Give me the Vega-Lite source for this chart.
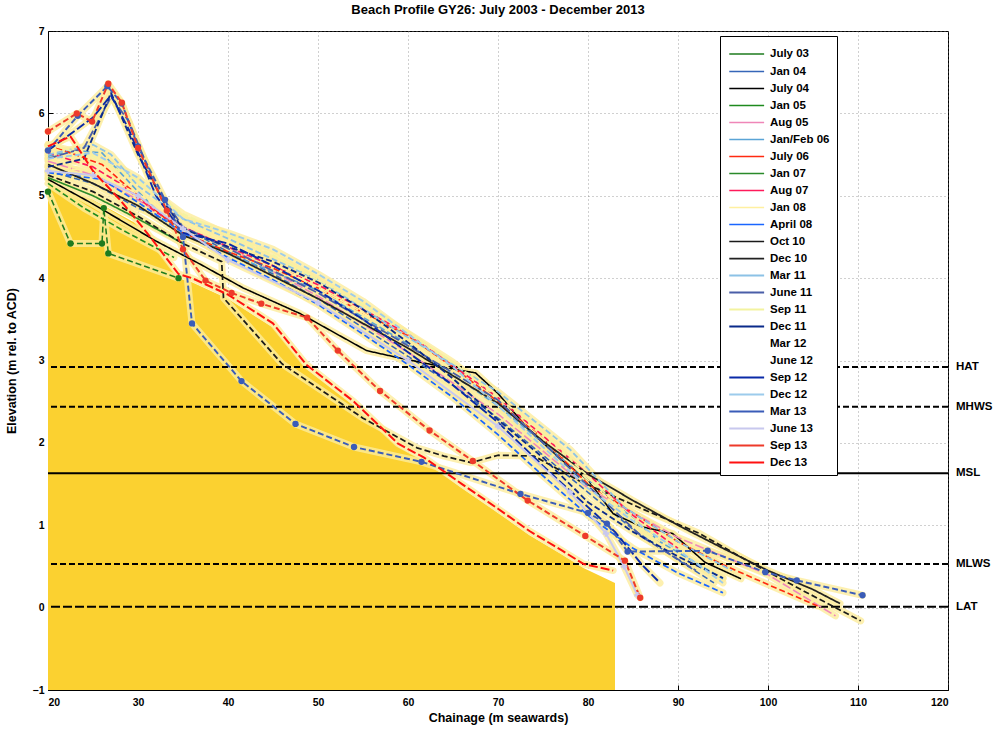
{
  "$schema": "https://vega.github.io/schema/vega-lite/v6.json",
  "width": 900,
  "height": 659,
  "autosize": {"type": "none"},
  "padding": {"left": 48, "top": 31, "right": 53, "bottom": 40},
  "background": "white",
  "title": {"text": "Beach Profile GY26: July 2003 - December 2013", "font": "Liberation Sans Narrow, Liberation Sans, Arial", "fontSize": 13, "fontWeight": "bold", "color": "black", "anchor": "middle", "offset": 9},
  "config": {
    "view": {"stroke": "black", "strokeWidth": 1},
    "axis": {"labelFont": "Liberation Sans Narrow, Liberation Sans, Arial", "labelFontWeight": "bold", "labelFontSize": 10.5, "labelColor": "black", "titleFont": "Liberation Sans Narrow, Liberation Sans, Arial", "titleFontWeight": "bold", "titleFontSize": 12.5, "titleColor": "black", "domainColor": "black", "tickColor": "black", "tickSize": -5, "labelPadding": 9, "grid": true, "gridColor": "#777777", "gridDash": [1, 3], "gridOpacity": 0.7, "zindex": 1}
  },
  "datasets": {
    "fill": [
      {"x": 20, "y": 5.15}, {"x": 25, "y": 4.95}, {"x": 30, "y": 4.65}, {"x": 34.5, "y": 4.0}, {"x": 36, "y": 3.95}, {"x": 40, "y": 3.75}, {"x": 45, "y": 3.4}, {"x": 48.7, "y": 2.9}, {"x": 54, "y": 2.45}, {"x": 58.9, "y": 1.95}, {"x": 61.8, "y": 1.78}, {"x": 66, "y": 1.45}, {"x": 70, "y": 1.15}, {"x": 73.5, "y": 0.88}, {"x": 77, "y": 0.65}, {"x": 79.5, "y": 0.48}, {"x": 83, "y": 0.3}
    ],
    "levels": [
      {"name": "HAT", "y": 2.92}, {"name": "MHWS", "y": 2.44}, {"name": "MSL", "y": 1.63}, {"name": "MLWS", "y": 0.53}, {"name": "LAT", "y": 0.01}
    ],
    "profiles": [
      {"s": "July 03", "x": 20, "y": 5.05}, {"s": "July 03", "x": 22.5, "y": 4.42}, {"s": "July 03", "x": 26, "y": 4.42}, {"s": "July 03", "x": 26.2, "y": 4.85}, {"s": "July 03", "x": 26.7, "y": 4.3}, {"s": "July 03", "x": 34.5, "y": 4.0},
      {"s": "Jan 04", "x": 20, "y": 5.3}, {"s": "Jan 04", "x": 25, "y": 5.15}, {"s": "Jan 04", "x": 30, "y": 4.85}, {"s": "Jan 04", "x": 35, "y": 4.62}, {"s": "Jan 04", "x": 40, "y": 4.32}, {"s": "Jan 04", "x": 45, "y": 4.05}, {"s": "Jan 04", "x": 50, "y": 3.75}, {"s": "Jan 04", "x": 55, "y": 3.4}, {"s": "Jan 04", "x": 60, "y": 3.05}, {"s": "Jan 04", "x": 65, "y": 2.7}, {"s": "Jan 04", "x": 70, "y": 2.3}, {"s": "Jan 04", "x": 75, "y": 1.85}, {"s": "Jan 04", "x": 80, "y": 1.4}, {"s": "Jan 04", "x": 85, "y": 0.95}, {"s": "Jan 04", "x": 90, "y": 0.58}, {"s": "Jan 04", "x": 94, "y": 0.3},
      {"s": "July 04", "x": 20, "y": 5.2}, {"s": "July 04", "x": 25, "y": 4.9}, {"s": "July 04", "x": 32, "y": 4.45}, {"s": "July 04", "x": 36.9, "y": 4.17}, {"s": "July 04", "x": 41.7, "y": 3.88}, {"s": "July 04", "x": 48, "y": 3.57}, {"s": "July 04", "x": 55.4, "y": 3.12}, {"s": "July 04", "x": 59.1, "y": 3.03}, {"s": "July 04", "x": 65.8, "y": 2.88}, {"s": "July 04", "x": 67.5, "y": 2.85}, {"s": "July 04", "x": 70, "y": 2.6}, {"s": "July 04", "x": 73.5, "y": 2.15}, {"s": "July 04", "x": 77, "y": 1.8}, {"s": "July 04", "x": 80, "y": 1.55}, {"s": "July 04", "x": 82.8, "y": 1.14}, {"s": "July 04", "x": 86, "y": 0.98}, {"s": "July 04", "x": 89.4, "y": 0.9}, {"s": "July 04", "x": 93, "y": 0.55}, {"s": "July 04", "x": 97, "y": 0.35},
      {"s": "Jan 05", "x": 20, "y": 5.15}, {"s": "Jan 05", "x": 24, "y": 4.85}, {"s": "Jan 05", "x": 28, "y": 4.6}, {"s": "Jan 05", "x": 34, "y": 4.25},
      {"s": "Aug 05", "x": 20, "y": 5.42}, {"s": "Aug 05", "x": 25, "y": 5.25}, {"s": "Aug 05", "x": 30, "y": 4.95}, {"s": "Aug 05", "x": 35, "y": 4.62}, {"s": "Aug 05", "x": 40, "y": 4.38}, {"s": "Aug 05", "x": 50, "y": 3.78}, {"s": "Aug 05", "x": 60, "y": 3.1}, {"s": "Aug 05", "x": 70, "y": 2.35}, {"s": "Aug 05", "x": 80, "y": 1.45}, {"s": "Aug 05", "x": 90, "y": 0.85}, {"s": "Aug 05", "x": 100, "y": 0.4}, {"s": "Aug 05", "x": 107.5, "y": -0.1},
      {"s": "Jan/Feb 06", "x": 20, "y": 5.48}, {"s": "Jan/Feb 06", "x": 23, "y": 5.55}, {"s": "Jan/Feb 06", "x": 26, "y": 5.52}, {"s": "Jan/Feb 06", "x": 30, "y": 5.05}, {"s": "Jan/Feb 06", "x": 34, "y": 4.62}, {"s": "Jan/Feb 06", "x": 40, "y": 4.3}, {"s": "Jan/Feb 06", "x": 50, "y": 3.85}, {"s": "Jan/Feb 06", "x": 60, "y": 3.2}, {"s": "Jan/Feb 06", "x": 70, "y": 2.45}, {"s": "Jan/Feb 06", "x": 80, "y": 1.55}, {"s": "Jan/Feb 06", "x": 88, "y": 0.8}, {"s": "Jan/Feb 06", "x": 95, "y": 0.35},
      {"s": "July 06", "x": 20, "y": 5.62}, {"s": "July 06", "x": 23, "y": 5.5}, {"s": "July 06", "x": 26, "y": 5.38}, {"s": "July 06", "x": 30, "y": 5.0}, {"s": "July 06", "x": 35, "y": 4.55}, {"s": "July 06", "x": 40, "y": 4.32}, {"s": "July 06", "x": 45, "y": 4.12}, {"s": "July 06", "x": 50, "y": 3.88}, {"s": "July 06", "x": 55, "y": 3.58}, {"s": "July 06", "x": 60, "y": 3.3}, {"s": "July 06", "x": 65, "y": 2.92}, {"s": "July 06", "x": 70, "y": 2.5}, {"s": "July 06", "x": 75, "y": 2.05}, {"s": "July 06", "x": 80, "y": 1.5}, {"s": "July 06", "x": 85, "y": 1.15}, {"s": "July 06", "x": 90, "y": 0.8}, {"s": "July 06", "x": 95, "y": 0.52}, {"s": "July 06", "x": 100, "y": 0.28}, {"s": "July 06", "x": 105.5, "y": 0.02},
      {"s": "Jan 07", "x": 20, "y": 5.22}, {"s": "Jan 07", "x": 25, "y": 5.0}, {"s": "Jan 07", "x": 30, "y": 4.72}, {"s": "Jan 07", "x": 35, "y": 4.42},
      {"s": "Aug 07", "x": 20, "y": 5.52}, {"s": "Aug 07", "x": 25, "y": 5.35}, {"s": "Aug 07", "x": 28, "y": 5.15}, {"s": "Aug 07", "x": 32, "y": 4.8}, {"s": "Aug 07", "x": 35, "y": 4.62}, {"s": "Aug 07", "x": 40, "y": 4.38}, {"s": "Aug 07", "x": 50, "y": 3.92}, {"s": "Aug 07", "x": 60, "y": 3.32}, {"s": "Aug 07", "x": 70, "y": 2.55}, {"s": "Aug 07", "x": 80, "y": 1.62}, {"s": "Aug 07", "x": 85, "y": 1.12}, {"s": "Aug 07", "x": 90, "y": 0.72},
      {"s": "Jan 08", "x": 20, "y": 5.35}, {"s": "Jan 08", "x": 25, "y": 5.3}, {"s": "Jan 08", "x": 30, "y": 5.02}, {"s": "Jan 08", "x": 35, "y": 4.68}, {"s": "Jan 08", "x": 45, "y": 4.18}, {"s": "Jan 08", "x": 55, "y": 3.58}, {"s": "Jan 08", "x": 65, "y": 2.88}, {"s": "Jan 08", "x": 75, "y": 2.05}, {"s": "Jan 08", "x": 82, "y": 1.35}, {"s": "Jan 08", "x": 88, "y": 0.8},
      {"s": "April 08", "x": 20, "y": 5.28}, {"s": "April 08", "x": 26, "y": 5.2}, {"s": "April 08", "x": 30, "y": 4.92}, {"s": "April 08", "x": 35, "y": 4.55}, {"s": "April 08", "x": 40, "y": 4.25}, {"s": "April 08", "x": 45, "y": 3.98}, {"s": "April 08", "x": 50, "y": 3.68}, {"s": "April 08", "x": 55, "y": 3.32}, {"s": "April 08", "x": 60, "y": 2.95}, {"s": "April 08", "x": 65, "y": 2.55}, {"s": "April 08", "x": 70, "y": 2.1}, {"s": "April 08", "x": 75, "y": 1.6}, {"s": "April 08", "x": 80, "y": 1.12}, {"s": "April 08", "x": 85, "y": 0.72}, {"s": "April 08", "x": 90, "y": 0.42}, {"s": "April 08", "x": 95, "y": 0.18},
      {"s": "Oct 10", "x": 20, "y": 5.25}, {"s": "Oct 10", "x": 25, "y": 5.05}, {"s": "Oct 10", "x": 30, "y": 4.75}, {"s": "Oct 10", "x": 35, "y": 4.42}, {"s": "Oct 10", "x": 39.3, "y": 4.2}, {"s": "Oct 10", "x": 39.5, "y": 3.76}, {"s": "Oct 10", "x": 46, "y": 2.96}, {"s": "Oct 10", "x": 55, "y": 2.3}, {"s": "Oct 10", "x": 61, "y": 1.94}, {"s": "Oct 10", "x": 64, "y": 1.84}, {"s": "Oct 10", "x": 67, "y": 1.76}, {"s": "Oct 10", "x": 70, "y": 1.85}, {"s": "Oct 10", "x": 74, "y": 1.84}, {"s": "Oct 10", "x": 79, "y": 1.54}, {"s": "Oct 10", "x": 85.8, "y": 1.21}, {"s": "Oct 10", "x": 92.4, "y": 0.9}, {"s": "Oct 10", "x": 98, "y": 0.55}, {"s": "Oct 10", "x": 104, "y": 0.2}, {"s": "Oct 10", "x": 110.3, "y": -0.16},
      {"s": "Dec 10", "x": 20, "y": 5.38}, {"s": "Dec 10", "x": 25, "y": 5.15}, {"s": "Dec 10", "x": 30, "y": 4.88}, {"s": "Dec 10", "x": 35, "y": 4.52}, {"s": "Dec 10", "x": 40, "y": 4.3}, {"s": "Dec 10", "x": 50, "y": 3.75}, {"s": "Dec 10", "x": 60, "y": 3.15}, {"s": "Dec 10", "x": 70, "y": 2.48}, {"s": "Dec 10", "x": 75, "y": 2.02}, {"s": "Dec 10", "x": 80, "y": 1.62}, {"s": "Dec 10", "x": 85, "y": 1.3}, {"s": "Dec 10", "x": 90, "y": 1.0}, {"s": "Dec 10", "x": 95, "y": 0.72}, {"s": "Dec 10", "x": 100, "y": 0.45}, {"s": "Dec 10", "x": 105, "y": 0.22}, {"s": "Dec 10", "x": 108, "y": 0.05},
      {"s": "Mar 11", "x": 20, "y": 5.5}, {"s": "Mar 11", "x": 25, "y": 5.62}, {"s": "Mar 11", "x": 27, "y": 5.5}, {"s": "Mar 11", "x": 30, "y": 5.12}, {"s": "Mar 11", "x": 35, "y": 4.72}, {"s": "Mar 11", "x": 40, "y": 4.48}, {"s": "Mar 11", "x": 50, "y": 3.98}, {"s": "Mar 11", "x": 60, "y": 3.28}, {"s": "Mar 11", "x": 70, "y": 2.62}, {"s": "Mar 11", "x": 78, "y": 1.92}, {"s": "Mar 11", "x": 84, "y": 1.22}, {"s": "Mar 11", "x": 90, "y": 0.8}, {"s": "Mar 11", "x": 96, "y": 0.45},
      {"s": "June 11", "x": 20, "y": 5.45}, {"s": "June 11", "x": 24, "y": 5.58}, {"s": "June 11", "x": 27, "y": 6.2}, {"s": "June 11", "x": 29, "y": 5.9}, {"s": "June 11", "x": 32, "y": 5.1}, {"s": "June 11", "x": 35, "y": 4.62}, {"s": "June 11", "x": 40, "y": 4.36}, {"s": "June 11", "x": 50, "y": 3.82}, {"s": "June 11", "x": 60, "y": 3.18}, {"s": "June 11", "x": 70, "y": 2.52}, {"s": "June 11", "x": 80, "y": 1.48}, {"s": "June 11", "x": 86, "y": 0.86}, {"s": "June 11", "x": 92, "y": 0.45},
      {"s": "Sep 11", "x": 20, "y": 5.62}, {"s": "Sep 11", "x": 25, "y": 5.48}, {"s": "Sep 11", "x": 30, "y": 5.18}, {"s": "Sep 11", "x": 35, "y": 4.78}, {"s": "Sep 11", "x": 45, "y": 4.28}, {"s": "Sep 11", "x": 55, "y": 3.68}, {"s": "Sep 11", "x": 65, "y": 2.98}, {"s": "Sep 11", "x": 75, "y": 2.12}, {"s": "Sep 11", "x": 82, "y": 1.38}, {"s": "Sep 11", "x": 88, "y": 0.72},
      {"s": "Dec 11", "x": 20, "y": 5.35}, {"s": "Dec 11", "x": 24, "y": 5.45}, {"s": "Dec 11", "x": 27, "y": 6.25}, {"s": "Dec 11", "x": 30, "y": 5.5}, {"s": "Dec 11", "x": 33, "y": 4.9}, {"s": "Dec 11", "x": 35, "y": 4.6}, {"s": "Dec 11", "x": 40, "y": 4.38}, {"s": "Dec 11", "x": 45, "y": 4.2}, {"s": "Dec 11", "x": 50, "y": 3.95}, {"s": "Dec 11", "x": 55, "y": 3.62}, {"s": "Dec 11", "x": 60, "y": 3.22}, {"s": "Dec 11", "x": 65, "y": 2.78}, {"s": "Dec 11", "x": 70, "y": 2.28}, {"s": "Dec 11", "x": 75, "y": 1.82}, {"s": "Dec 11", "x": 80, "y": 1.28}, {"s": "Dec 11", "x": 85, "y": 0.92}, {"s": "Dec 11", "x": 90, "y": 0.62}, {"s": "Dec 11", "x": 95, "y": 0.36},
      {"s": "Sep 12", "x": 20, "y": 5.55}, {"s": "Sep 12", "x": 25, "y": 5.95}, {"s": "Sep 12", "x": 27, "y": 6.22}, {"s": "Sep 12", "x": 29, "y": 5.8}, {"s": "Sep 12", "x": 32, "y": 5.0}, {"s": "Sep 12", "x": 35, "y": 4.55}, {"s": "Sep 12", "x": 40, "y": 4.42}, {"s": "Sep 12", "x": 45, "y": 4.15}, {"s": "Sep 12", "x": 50, "y": 3.85}, {"s": "Sep 12", "x": 55, "y": 3.5}, {"s": "Sep 12", "x": 60, "y": 3.1}, {"s": "Sep 12", "x": 65, "y": 2.7}, {"s": "Sep 12", "x": 70, "y": 2.25}, {"s": "Sep 12", "x": 75, "y": 1.72}, {"s": "Sep 12", "x": 80, "y": 1.22}, {"s": "Sep 12", "x": 83, "y": 0.92}, {"s": "Sep 12", "x": 86, "y": 0.52}, {"s": "Sep 12", "x": 88, "y": 0.3},
      {"s": "Dec 12", "x": 20, "y": 5.45}, {"s": "Dec 12", "x": 25, "y": 5.52}, {"s": "Dec 12", "x": 30, "y": 5.22}, {"s": "Dec 12", "x": 35, "y": 4.72}, {"s": "Dec 12", "x": 40, "y": 4.55}, {"s": "Dec 12", "x": 45, "y": 4.35}, {"s": "Dec 12", "x": 50, "y": 4.05}, {"s": "Dec 12", "x": 55, "y": 3.72}, {"s": "Dec 12", "x": 60, "y": 3.32}, {"s": "Dec 12", "x": 65, "y": 2.92}, {"s": "Dec 12", "x": 70, "y": 2.45}, {"s": "Dec 12", "x": 75, "y": 1.95}, {"s": "Dec 12", "x": 80, "y": 1.45}, {"s": "Dec 12", "x": 85, "y": 1.05}, {"s": "Dec 12", "x": 90, "y": 0.7}, {"s": "Dec 12", "x": 95, "y": 0.3},
      {"s": "Mar 13", "x": 20, "y": 5.55}, {"s": "Mar 13", "x": 23.3, "y": 5.97}, {"s": "Mar 13", "x": 26.6, "y": 6.33}, {"s": "Mar 13", "x": 28.2, "y": 6.12}, {"s": "Mar 13", "x": 30, "y": 5.6}, {"s": "Mar 13", "x": 33, "y": 4.95}, {"s": "Mar 13", "x": 35, "y": 4.5}, {"s": "Mar 13", "x": 36, "y": 3.45}, {"s": "Mar 13", "x": 41.5, "y": 2.75}, {"s": "Mar 13", "x": 47.5, "y": 2.23}, {"s": "Mar 13", "x": 54, "y": 1.95}, {"s": "Mar 13", "x": 61.5, "y": 1.77}, {"s": "Mar 13", "x": 72.5, "y": 1.38}, {"s": "Mar 13", "x": 80, "y": 1.15}, {"s": "Mar 13", "x": 82.1, "y": 1.02}, {"s": "Mar 13", "x": 84.4, "y": 0.68}, {"s": "Mar 13", "x": 93.3, "y": 0.69}, {"s": "Mar 13", "x": 99.7, "y": 0.43}, {"s": "Mar 13", "x": 103.2, "y": 0.33}, {"s": "Mar 13", "x": 110.5, "y": 0.15},
      {"s": "June 13", "x": 20, "y": 5.3}, {"s": "June 13", "x": 25, "y": 5.25}, {"s": "June 13", "x": 30, "y": 5.0}, {"s": "June 13", "x": 35, "y": 4.6}, {"s": "June 13", "x": 40, "y": 4.22}, {"s": "June 13", "x": 50, "y": 3.7}, {"s": "June 13", "x": 60, "y": 3.0}, {"s": "June 13", "x": 70, "y": 2.2}, {"s": "June 13", "x": 78, "y": 1.4}, {"s": "June 13", "x": 82, "y": 0.9}, {"s": "June 13", "x": 84, "y": 0.5}, {"s": "June 13", "x": 85.5, "y": 0.15},
      {"s": "Sep 13", "x": 20, "y": 5.78}, {"s": "Sep 13", "x": 23.2, "y": 6.0}, {"s": "Sep 13", "x": 24.9, "y": 5.9}, {"s": "Sep 13", "x": 26.7, "y": 6.36}, {"s": "Sep 13", "x": 28.2, "y": 6.13}, {"s": "Sep 13", "x": 30, "y": 5.58}, {"s": "Sep 13", "x": 33.2, "y": 4.82}, {"s": "Sep 13", "x": 35, "y": 4.35}, {"s": "Sep 13", "x": 37.5, "y": 3.97}, {"s": "Sep 13", "x": 40.4, "y": 3.82}, {"s": "Sep 13", "x": 43.7, "y": 3.69}, {"s": "Sep 13", "x": 48.8, "y": 3.52}, {"s": "Sep 13", "x": 52.2, "y": 3.12}, {"s": "Sep 13", "x": 56.9, "y": 2.63}, {"s": "Sep 13", "x": 62.4, "y": 2.15}, {"s": "Sep 13", "x": 67.2, "y": 1.78}, {"s": "Sep 13", "x": 73.3, "y": 1.3}, {"s": "Sep 13", "x": 79.7, "y": 0.87}, {"s": "Sep 13", "x": 84.1, "y": 0.57}, {"s": "Sep 13", "x": 85.8, "y": 0.12},
      {"s": "Dec 13", "x": 20, "y": 5.6}, {"s": "Dec 13", "x": 22.5, "y": 5.72}, {"s": "Dec 13", "x": 25, "y": 5.3}, {"s": "Dec 13", "x": 28, "y": 4.95}, {"s": "Dec 13", "x": 31, "y": 4.55}, {"s": "Dec 13", "x": 34.5, "y": 4.05}, {"s": "Dec 13", "x": 36, "y": 4.0}, {"s": "Dec 13", "x": 40, "y": 3.8}, {"s": "Dec 13", "x": 45, "y": 3.45}, {"s": "Dec 13", "x": 48.7, "y": 2.95}, {"s": "Dec 13", "x": 54, "y": 2.5}, {"s": "Dec 13", "x": 58.9, "y": 1.99}, {"s": "Dec 13", "x": 61.8, "y": 1.82}, {"s": "Dec 13", "x": 66, "y": 1.5}, {"s": "Dec 13", "x": 70, "y": 1.2}, {"s": "Dec 13", "x": 73.5, "y": 0.93}, {"s": "Dec 13", "x": 77, "y": 0.7}, {"s": "Dec 13", "x": 79.5, "y": 0.53}, {"s": "Dec 13", "x": 82.8, "y": 0.45}
    ]
  },
  "layer": [
    {
      "data": {"name": "fill"},
      "mark": {"type": "area", "color": "#fbd130", "interpolate": "linear"},
      "encoding": {
        "x": {"field": "x", "type": "quantitative", "scale": {"domain": [20, 120], "nice": false, "zero": false}, "axis": {"title": "Chainage (m seawards)", "values": [20, 30, 40, 50, 60, 70, 80, 90, 100, 110, 120], "format": "d", "labelPadding": 12, "titlePadding": 4}},
        "y": {"field": "y", "type": "quantitative", "scale": {"domain": [-1, 7], "nice": false, "zero": false}, "axis": {"title": "Elevation (m rel. to ACD)", "values": [-1, 0, 1, 2, 3, 4, 5, 6, 7], "format": "d", "titlePadding": 14}},
        "y2": {"datum": -1}
      }
    },
    {
      "data": {"name": "profiles"},
      "mark": {"type": "line", "color": "#fcec9c", "strokeWidth": 7, "opacity": 0.8, "strokeCap": "round", "strokeJoin": "round"},
      "encoding": {
        "x": {"field": "x", "type": "quantitative"},
        "y": {"field": "y", "type": "quantitative"},
        "detail": {"field": "s"}
      }
    },
    {
      "data": {"name": "levels"},
      "mark": {"type": "rule", "color": "black", "strokeWidth": 2},
      "encoding": {
        "y": {"field": "y", "type": "quantitative"},
        "strokeDash": {"field": "name", "type": "nominal", "legend": null, "scale": {"domain": ["HAT", "MHWS", "MSL", "MLWS", "LAT"], "range": [[6, 3], [6, 3], [1, 0], [6, 3], [9, 3]]}}
      }
    },
    {
      "data": {"name": "levels"},
      "mark": {"type": "text", "align": "left", "baseline": "middle", "dx": 8, "font": "Liberation Sans Narrow, Liberation Sans, Arial", "fontSize": 11.5, "fontWeight": "bold", "color": "black"},
      "encoding": {
        "x": {"datum": 120, "type": "quantitative"},
        "y": {"field": "y", "type": "quantitative"},
        "text": {"field": "name"}
      }
    },
    {
      "data": {"name": "profiles"},
      "mark": {"type": "line", "strokeJoin": "round"},
      "encoding": {
        "x": {"field": "x", "type": "quantitative"},
        "y": {"field": "y", "type": "quantitative"},
        "color": {
          "field": "s", "type": "nominal",
          "scale": {
            "domain": ["July 03", "Jan 04", "July 04", "Jan 05", "Aug 05", "Jan/Feb 06", "July 06", "Jan 07", "Aug 07", "Jan 08", "April 08", "Oct 10", "Dec 10", "Mar 11", "June 11", "Sep 11", "Dec 11", "Mar 12", "June 12", "Sep 12", "Dec 12", "Mar 13", "June 13", "Sep 13", "Dec 13"],
            "range": ["#1e7b1e", "#3566b8", "#000000", "#1e8a1e", "#ef86b8", "#5aa4d6", "#ff2a10", "#2a8a2a", "#ff1a5a", "#fff0a0", "#1a66ff", "#1a1a1a", "#222222", "#8cc2e6", "#4a5ea8", "#f3f3a0", "#0a2a8a", "#ffffff", "#ffffff", "#0a2aa8", "#9ccbec", "#3a5cb8", "#c8c8ee", "#ee3a2a", "#ff1010"]
          },
          "legend": {"orient": "none", "legendX": 672, "legendY": 5, "title": null, "strokeColor": "black", "fillColor": "white", "padding": 7, "symbolType": "M-0.9,0H2.5", "symbolSize": 420, "rowPadding": 0, "labelOffset": 20, "labelFont": "Liberation Sans Narrow, Liberation Sans, Arial", "labelFontSize": 11.5, "labelFontWeight": "bold", "labelColor": "black", "symbolLimit": 0, "labelLimit": 200}
        },
        "strokeDash": {
          "field": "s", "type": "nominal",
          "scale": {
            "domain": ["July 03", "Jan 04", "July 04", "Jan 05", "Aug 05", "Jan/Feb 06", "July 06", "Jan 07", "Aug 07", "Jan 08", "April 08", "Oct 10", "Dec 10", "Mar 11", "June 11", "Sep 11", "Dec 11", "Mar 12", "June 12", "Sep 12", "Dec 12", "Mar 13", "June 13", "Sep 13", "Dec 13"],
            "range": [[1, 0], [1, 0], [1, 0], [1, 0], [1, 0], [1, 0], [4, 2], [4, 2], [4, 2], [1, 0], [4, 2], [4, 2], [4, 2], [1, 0], [1, 0], [1, 0], [1, 0], [1, 0], [1, 0], [4, 2], [1, 0], [1, 0], [1, 0], [1, 0], [1, 0]]
          }
        },
        "strokeWidth": {
          "field": "s", "type": "nominal",
          "scale": {
            "domain": ["July 03", "Jan 04", "July 04", "Jan 05", "Aug 05", "Jan/Feb 06", "July 06", "Jan 07", "Aug 07", "Jan 08", "April 08", "Oct 10", "Dec 10", "Mar 11", "June 11", "Sep 11", "Dec 11", "Mar 12", "June 12", "Sep 12", "Dec 12", "Mar 13", "June 13", "Sep 13", "Dec 13"],
            "range": [1.5, 2, 2, 1.5, 2.5, 2.5, 1.5, 1.5, 1.8, 3, 1.8, 1.8, 1.8, 2.5, 1.5, 3, 2.5, 1.5, 1.5, 2.5, 3, 1.5, 1.5, 1.5, 4]
          }
        }
      }
    },
    {
      "data": {"name": "profiles"},
      "transform": [{"filter": {"field": "s", "oneOf": ["July 03", "Mar 13", "June 13", "Sep 13"]}}],
      "mark": {"type": "point", "filled": true, "size": 40, "opacity": 1},
      "encoding": {
        "x": {"field": "x", "type": "quantitative"},
        "y": {"field": "y", "type": "quantitative"},
        "color": {"field": "s", "type": "nominal", "legend": null},
        "shape": {"field": "s", "type": "nominal", "legend": null, "scale": {"domain": ["July 03", "Mar 13", "June 13", "Sep 13"], "range": ["circle", "circle", "cross", "circle"]}}
      }
    }
  ]
}
